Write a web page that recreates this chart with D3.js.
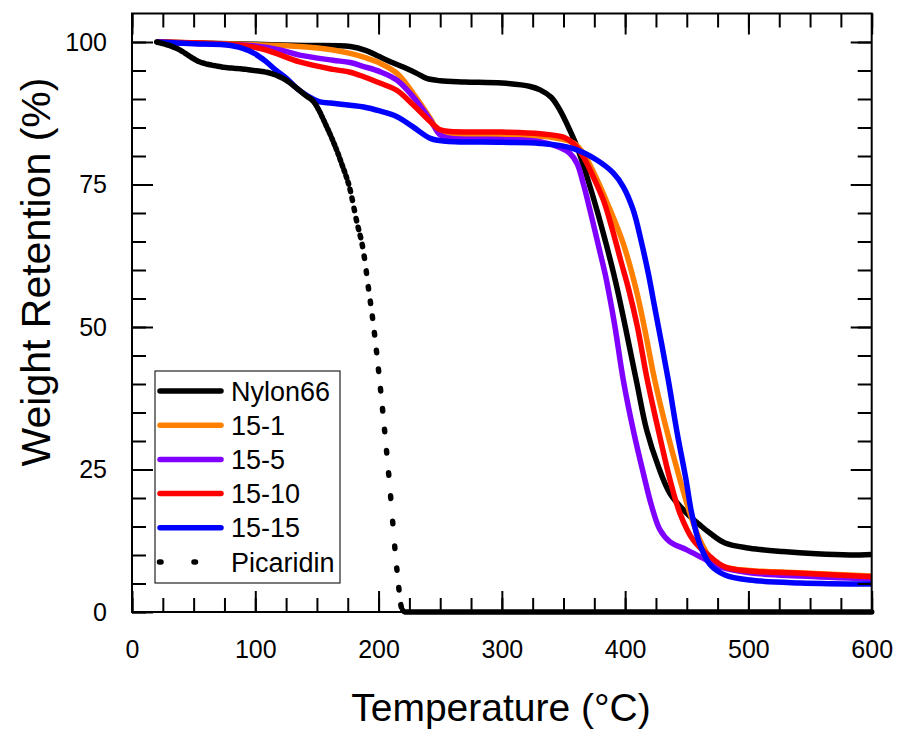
<!DOCTYPE html>
<html>
<head>
<meta charset="utf-8">
<script src="https://cdn.jsdelivr.net/npm/d3@7"></script>
<style>
    body { margin: 0; background: #fff; }
    text { font-family: Arial, "Liberation Sans", sans-serif; fill: #000; }
</style>
</head>
<body>
<div id="chart"></div>
<script>
// values (temperature in C, weight retention in %)
var nylonT = [20, 60, 100, 140, 177, 190, 200, 210, 220, 231, 239, 250, 270, 300, 323, 331, 340, 347, 355, 361, 369, 377.5, 392, 409, 417.5, 427, 436.4, 450, 461, 469, 481, 501, 528, 555, 582, 600];
var nylonW = [100, 99.8, 99.6, 99.4, 99.2, 98.5, 97.5, 96.5, 95.6, 94.5, 93.6, 93.2, 93.0, 92.8, 92.2, 91.6, 90.3, 88.1, 84.6, 81.6, 76.4, 70.2, 58.2, 40.7, 31.9, 25.5, 20.8, 17.3, 15.2, 13.8, 12.1, 11.2, 10.6, 10.2, 10.0, 10.1];

var s1T = [20, 60, 100, 136, 163, 177, 190, 201, 215, 228, 242, 250, 260, 300, 340, 358, 366, 376, 386, 398.7, 409, 416, 424, 433.7, 444.5, 452.6, 460.7, 469, 481, 501, 542, 600];
var s1W = [100, 99.8, 99.5, 99.2, 98.6, 98.0, 97.2, 96.3, 94.5, 91, 86.6, 83.8, 83.6, 83.6, 83.3, 82.3, 80.5, 76.4, 71.5, 64.5, 56.5, 49.5, 40.7, 31.9, 23.2, 17.3, 12.6, 9.6, 7.9, 7.3, 6.9, 6.3];

var s5T = [20, 60, 100, 120, 136, 163, 177, 188, 201, 215, 228, 242, 250, 258, 300, 331, 347, 355, 361, 366, 371.5, 378.3, 383.7, 387.7, 391.8, 398.5, 406.6, 414.8, 421.6, 428.3, 436.4, 450, 463.4, 477, 501, 542, 600];
var s5W = [100, 99.7, 99.3, 98.6, 97.7, 96.8, 96.4, 95.7, 94.8, 93.3, 90.4, 86.3, 83.7, 83.1, 82.9, 82.5, 81.5, 80.5, 78.7, 75.2, 70.5, 64.3, 59.4, 55, 50, 40.7, 31.9, 24.3, 18.5, 14.4, 12.3, 10.9, 9.4, 7.9, 6.9, 6.3, 5.8];

var s10T = [20, 60, 90, 109, 136, 163, 177, 188, 201, 215, 228, 242, 250, 258, 300, 331, 350, 358, 366, 374, 382.3, 389, 396, 403, 410, 418, 428.3, 436.4, 444.5, 455.3, 469, 481, 501, 542, 600];
var s10W = [100, 99.8, 99.4, 98.6, 96.5, 95.2, 94.7, 93.9, 92.8, 91.5, 89, 86, 84.6, 84.3, 84.2, 83.9, 83.3, 82.2, 79.9, 76.4, 72.3, 67.6, 62.0, 56.5, 50, 40.7, 30.6, 23.2, 17.3, 12.6, 9.7, 7.9, 7.2, 6.8, 6.2];

var s15T = [20, 50, 75, 88, 100, 109, 117, 125.5, 134, 142, 152.5, 161, 177, 188, 201, 215, 228, 242, 255, 300, 331, 358, 377, 390.5, 398.5, 406.6, 413.4, 418.8, 422.9, 435, 441.8, 449.4, 454, 460.7, 469, 481, 501, 542, 600];
var s15W = [100, 99.7, 99.5, 99.0, 97.9, 96.5, 95.0, 93.6, 91.8, 90.6, 89.5, 89.3, 88.9, 88.6, 87.9, 86.9, 85.1, 83.1, 82.6, 82.4, 82.2, 81.3, 79.3, 77, 74.6, 70.5, 64.7, 59.4, 54.7, 40.7, 31.9, 23.2, 17.3, 11.8, 8.3, 6.5, 5.6, 5.1, 4.9];

var picT = [20, 36, 55, 71, 96, 114, 125, 133, 141, 147, 158, 170, 177, 182, 188, 192, 195, 202, 208.5, 215, 219, 222, 300, 400, 500, 600];
var picW = [100, 98.9, 96.5, 95.7, 95.1, 94.4, 93.3, 92.0, 90.6, 89.6, 85.1, 78.7, 74, 68.8, 62.9, 56.5, 51.8, 38.2, 23.5, 7.2, 0.5, 0, 0, 0, 0, 0];

var seriesNames = ["Nylon66", "15-1", "15-5", "15-10", "15-15", "Picaridin"];
var seriesColors = ["#000000", "#ff8000", "#8000ff", "#ff0000", "#0000ff", "#000000"];
var xMajor = [0, 100, 200, 300, 400, 500, 600];
var yMajor = [0, 25, 50, 75, 100];

(function() {

    var width = 898;
    var height = 730;

    var x = d3.scaleLinear().domain([0, 600]).range([132, 871.7]);
    var y = d3.scaleLinear().domain([0, 105]).range([612, 13.5]);

    var svg = d3.select("#chart")
        .append("svg")
        .attr("width", width)
        .attr("height", height);

    var allT = [nylonT, s1T, s5T, s10T, s15T, picT];
    var allW = [nylonW, s1W, s5W, s10W, s15W, picW];

    var smooth = d3.line()
        .x(function (d) { return x(d[0]); })
        .y(function (d) { return y(d[1]); })
        .curve(d3.curveCatmullRom.alpha(0.5));

    // picaridin has a hard knee at zero, monotone keeps it from dipping below
    var mono = d3.line()
        .x(function (d) { return x(d[0]); })
        .y(function (d) { return y(d[1]); })
        .curve(d3.curveMonotoneX);

    var curves = svg.append("g");

    allT.forEach(function (ts, k) {
        var pts = ts.map(function (t, i) { return [t, allW[k][i]]; });
        var isPic = seriesNames[k] == "Picaridin";
        var p = curves.append("path")
            .datum(pts)
            .attr("d", isPic ? mono : smooth)
            .attr("fill", "none")
            .attr("stroke", seriesColors[k])
            .attr("stroke-width", 5.5)
            .attr("stroke-linejoin", "round");

        if (isPic) {
            // dotted pattern restarting every ~1.65 C, like the original plot
            p.attr("stroke-linecap", "round");
            var node = p.node();
            var total = node.getTotalLength();
            var step = 1.65, nextT = ts[0] + step, marks = [0];
            for (var L = 0; L <= total; L += 0.25) {
                var pt = node.getPointAtLength(L);
                if (x.invert(pt.x) >= nextT) {
                    marks.push(L);
                    nextT += step;
                }
            }
            marks.push(total);
            var dash = [];
            for (var i = 1; i < marks.length; i++) {
                var seg = marks[i] - marks[i - 1];
                var dl = Math.min(2.5, seg);
                dash.push(dl.toFixed(2), (seg - dl).toFixed(2));
            }
            p.attr("stroke-dasharray", dash.join(","));
        }
    });

    // axes: major + minor ticks pointing inward on all four sides
    function styleAxis(g) {
        g.select(".domain").remove();
        g.selectAll("line").attr("stroke", "#000").attr("stroke-width", 2);
        g.selectAll("text").style("font-size", "25px").style("font-family", "Arial, 'Liberation Sans', sans-serif");
    }

    svg.append("g").attr("transform", "translate(0,612)")
        .call(d3.axisBottom(x).tickValues(d3.range(0, 601, 25)).tickSize(-14).tickFormat(""))
        .call(styleAxis);
    svg.append("g").attr("transform", "translate(0,612)")
        .call(d3.axisBottom(x).tickValues(xMajor).tickSize(-21).tickPadding(28).tickFormat(d3.format("d")))
        .call(styleAxis);
    svg.append("g").attr("transform", "translate(0,13.5)")
        .call(d3.axisTop(x).tickValues(d3.range(0, 601, 25)).tickSize(-14).tickFormat(""))
        .call(styleAxis);
    svg.append("g").attr("transform", "translate(0,13.5)")
        .call(d3.axisTop(x).tickValues(xMajor).tickSize(-21).tickFormat(""))
        .call(styleAxis);

    svg.append("g").attr("transform", "translate(132,0)")
        .call(d3.axisLeft(y).tickValues(d3.range(0, 101, 5)).tickSize(-14).tickFormat(""))
        .call(styleAxis);
    svg.append("g").attr("transform", "translate(132,0)")
        .call(d3.axisLeft(y).tickValues(yMajor).tickSize(-21).tickPadding(25).tickFormat(d3.format("d")))
        .call(styleAxis);
    svg.append("g").attr("transform", "translate(871.7,0)")
        .call(d3.axisRight(y).tickValues(d3.range(0, 101, 5)).tickSize(-14).tickFormat(""))
        .call(styleAxis);
    svg.append("g").attr("transform", "translate(871.7,0)")
        .call(d3.axisRight(y).tickValues(yMajor).tickSize(-21).tickFormat(""))
        .call(styleAxis);

    svg.append("rect")
        .attr("x", 132).attr("y", 13.5)
        .attr("width", 871.7 - 132).attr("height", 612 - 13.5)
        .attr("fill", "none")
        .attr("stroke", "#000")
        .attr("stroke-width", 2);

    // axis titles
    svg.append("text")
        .attr("x", 501).attr("y", 721)
        .attr("text-anchor", "middle")
        .style("font-size", "39px")
        .text("Temperature (\u00B0C)");

    svg.append("text")
        .attr("transform", "translate(50,272) rotate(-90)")
        .attr("text-anchor", "middle")
        .style("font-size", "41px")
        .text("Weight Retention (%)");

    // legend
    var legend = svg.append("g");
    legend.append("rect")
        .attr("x", 155).attr("y", 371)
        .attr("width", 185).attr("height", 212)
        .attr("fill", "#fff")
        .attr("stroke", "#222")
        .attr("stroke-width", 1.2);

    seriesNames.forEach(function (name, i) {
        var cy = 391 + i * 34.2;
        var l = legend.append("line")
            .attr("y1", cy).attr("y2", cy)
            .attr("stroke", seriesColors[i])
            .attr("stroke-width", 5.5)
            .attr("stroke-linecap", "round");
        if (name == "Picaridin") {
            l.attr("x1", 159.5).attr("x2", 197).attr("stroke-dasharray", "1.5,33");
        } else {
            l.attr("x1", 160).attr("x2", 221);
        }
        legend.append("text")
            .attr("x", 231).attr("y", cy + 9.5)
            .style("font-size", "27px")
            .text(name);
    });

})();
</script>
</body>
</html>
